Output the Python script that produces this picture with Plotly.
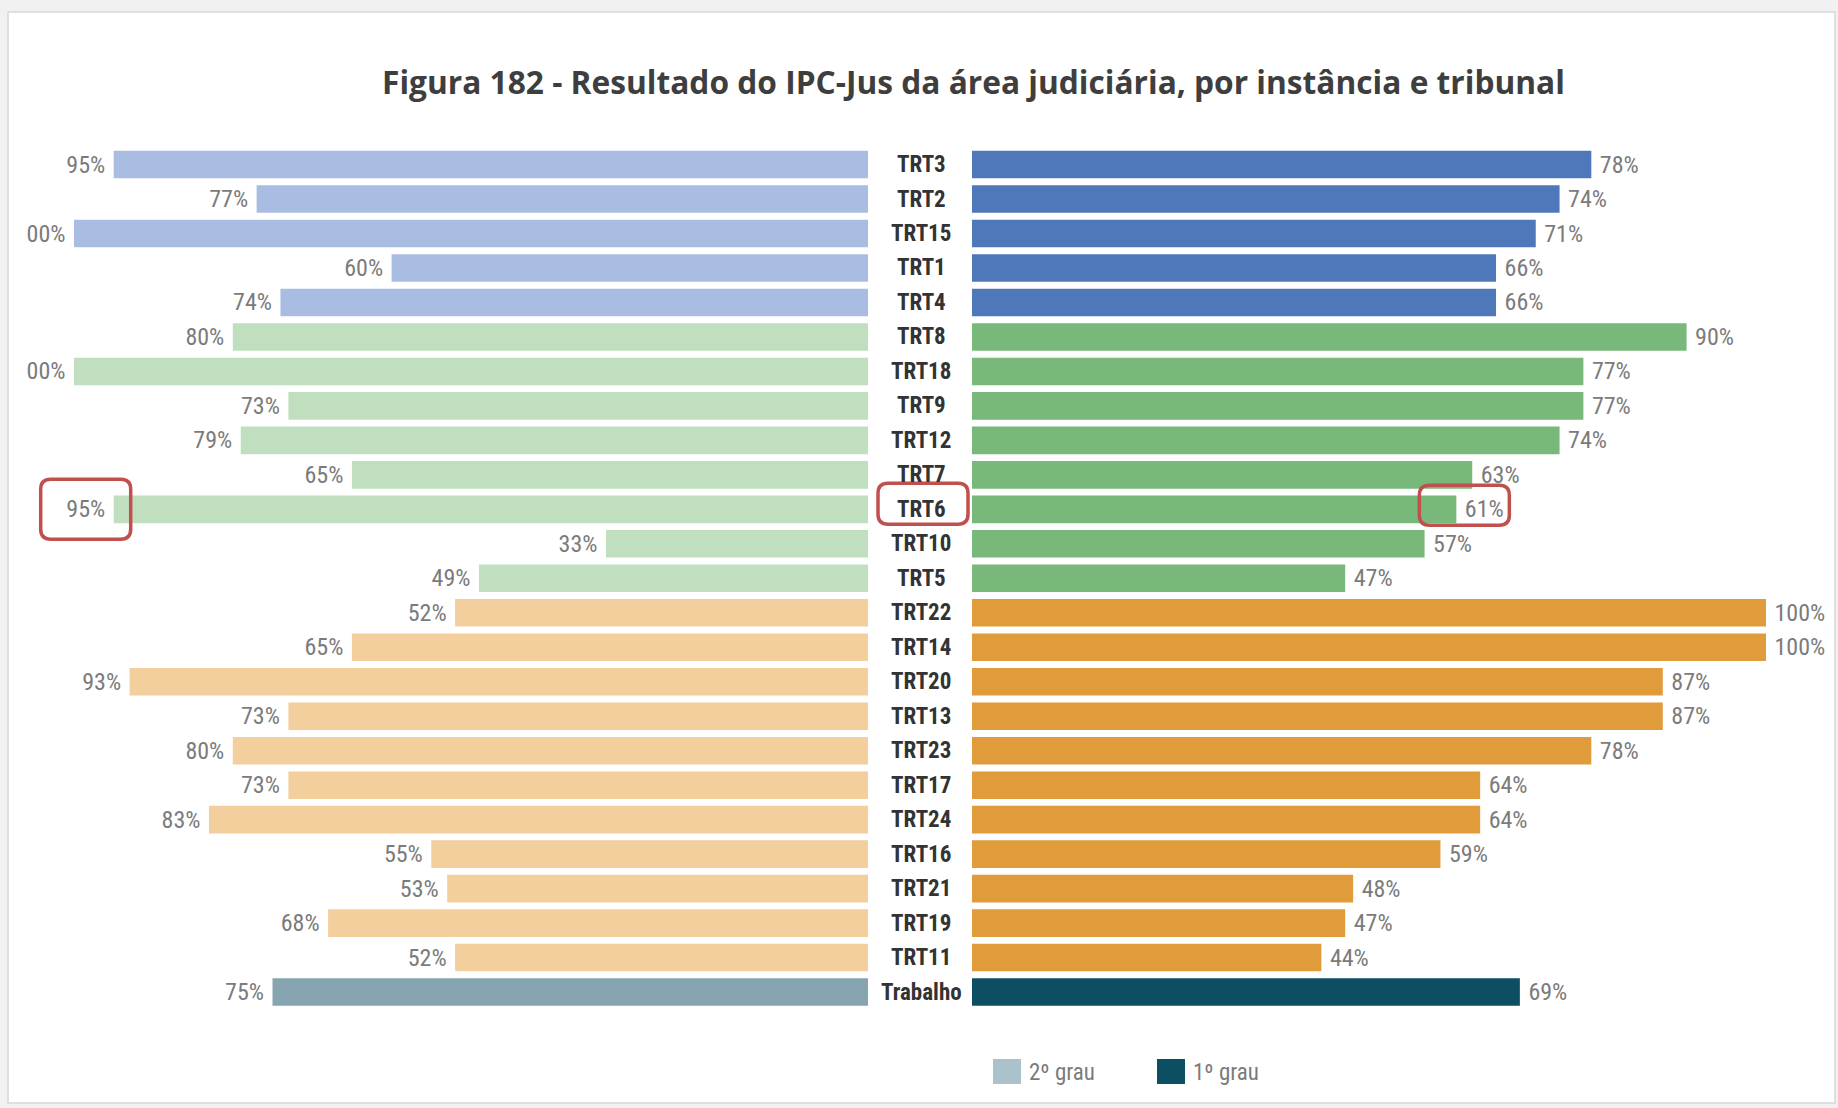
import plotly.graph_objects as go

W, H = 1838, 1108

tribunais = ["TRT3", "TRT2", "TRT15", "TRT1", "TRT4",
             "TRT8", "TRT18", "TRT9", "TRT12", "TRT7", "TRT6", "TRT10", "TRT5",
             "TRT22", "TRT14", "TRT20", "TRT13", "TRT23", "TRT17", "TRT24", "TRT16", "TRT21", "TRT19", "TRT11",
             "Trabalho"]
grupo = ["g1"] * 5 + ["g2"] * 8 + ["g3"] * 11 + ["total"]
segundo_grau = [95, 77, 100, 60, 74,
                80, 100, 73, 79, 65, 95, 33, 49,
                52, 65, 93, 73, 80, 73, 83, 55, 53, 68, 52,
                75]
primeiro_grau = [78, 74, 71, 66, 66,
                 90, 77, 77, 74, 63, 61, 57, 47,
                 100, 100, 87, 87, 78, 64, 64, 59, 48, 47, 44,
                 69]
destaque = "TRT6"
titulo = "Figura 182 - Resultado do IPC-Jus da área judiciária, por instância e tribunal"
legenda = ["2º grau", "1º grau"]

cor_2g = {"g1": "#a8bde1", "g2": "#bfdfbf", "g3": "#f2cf9d", "total": "#86a5b1"}
cor_1g = {"g1": "#4e78ba", "g2": "#78b87b", "g3": "#e09b3b", "total": "#0c4f63"}
cor_leg = ["#a9c2cb", "#0c4f63"]

NARROW = "Liberation Sans Narrow, Roboto Condensed, DejaVu Sans Condensed, sans-serif"
NBSP = "\u00a0"

# pixel layout
scale = 794.0 / 100.0      # px per percentage point
left_zero, right_zero = 868, 972
left_start = 27
row_top, row_pitch = 147.3, 34.48
n = len(tribunais)
row_bottom = row_top + n * row_pitch

def px(x):
    return x / W

def py(y):
    return 1 - y / H

fig = go.Figure()
fig.add_trace(go.Bar(
    y=tribunais, x=segundo_grau, orientation="h", xaxis="x", yaxis="y",
    marker=dict(color=[cor_2g[g] for g in grupo], line=dict(width=0)),
    text=[f"{v}%{NBSP}" for v in segundo_grau], textposition="outside",
    textfont=dict(family=NARROW, size=24, color="#7b7b7b"),
    constraintext="none", cliponaxis=True, showlegend=False, hoverinfo="skip"))
fig.add_trace(go.Bar(
    y=tribunais, x=primeiro_grau, orientation="h", xaxis="x2", yaxis="y",
    marker=dict(color=[cor_1g[g] for g in grupo], line=dict(width=0)),
    text=[f"{NBSP}{v}%" for v in primeiro_grau], textposition="outside",
    textfont=dict(family=NARROW, size=24, color="#7b7b7b"),
    constraintext="none", cliponaxis=True, showlegend=False, hoverinfo="skip"))

# category labels in the middle
annotations = []
for t in tribunais:
    annotations.append(dict(
        x=px(921), xref="paper", y=t, yref="y", text=f"<b>{t}</b>", showarrow=False,
        xanchor="center", yanchor="middle",
        font=dict(family=NARROW, size=23, color="#333333")))

# title
annotations.append(dict(
    x=px(973), y=py(82), xref="paper", yref="paper", text=f"<b>{titulo}</b>",
    showarrow=False, xanchor="center", yanchor="middle",
    font=dict(family="Open Sans, sans-serif", size=31.7, color="#3e3e3e")))

shapes = []
# page background
shapes.append(dict(type="rect", xref="paper", yref="paper", layer="below",
                   x0=px(8), x1=px(1835), y0=py(1103), y1=py(12),
                   fillcolor="white", line=dict(color="#d8d8d8", width=1.5)))

# legend (custom)
leg_x = [993, 1157]
for i, (lab, c) in enumerate(zip(legenda, cor_leg)):
    shapes.append(dict(type="rect", xref="paper", yref="paper",
                       x0=px(leg_x[i]), x1=px(leg_x[i] + 28), y0=py(1084), y1=py(1059),
                       fillcolor=c, line=dict(width=0)))
    annotations.append(dict(x=px(leg_x[i] + 34), y=py(1072), xref="paper", yref="paper",
                            text=lab, showarrow=False, xanchor="left", yanchor="middle",
                            font=dict(family=NARROW, size=23, color="#7b7b7b")))

# highlight boxes around TRT6
def rounded(x0, y0, x1, y1, r=10):
    a, b, c, d = px(x0), px(x1), py(y0), py(y1)
    rx, ry = r / W, r / H
    return (f"M {a+rx},{c} L {b-rx},{c} Q {b},{c} {b},{c-ry} "
            f"L {b},{d+ry} Q {b},{d} {b-rx},{d} L {a+rx},{d} "
            f"Q {a},{d} {a},{d+ry} L {a},{c-ry} Q {a},{c} {a+rx},{c} Z")

i6 = tribunais.index(destaque)
yc = row_top + (i6 + 0.5) * row_pitch
v2 = segundo_grau[i6]
v1 = primeiro_grau[i6]
xl = left_zero - v2 * scale
xr = right_zero + v1 * scale
boxes = [
    (xl - 73, yc - 30, xl + 17, yc + 30),
    (878, yc - 26, 968, yc + 15),
    (xr - 37, yc - 24, xr + 53, yc + 16),
]
for b in boxes:
    shapes.append(dict(type="path", xref="paper", yref="paper",
                       path=rounded(*b), line=dict(color="#c0504d", width=3.5)))

fig.update_layout(
    width=W, height=H,
    margin=dict(l=0, r=0, t=0, b=0),
    paper_bgcolor="#f1f1f1", plot_bgcolor="rgba(0,0,0,0)",
    bargap=0.2,
    xaxis=dict(domain=[px(left_start), px(left_zero)],
               range=[(left_zero - left_start) / scale, 0],
               visible=False, fixedrange=True),
    xaxis2=dict(domain=[px(right_zero), 1],
                range=[0, (W - right_zero) / scale],
                visible=False, fixedrange=True),
    yaxis=dict(domain=[py(row_bottom), py(row_top)], type="category",
               categoryorder="array", categoryarray=tribunais,
               range=[n - 0.5, -0.5], visible=False, fixedrange=True),
    annotations=annotations, shapes=shapes,
)

fig.write_html("out.html", config={"displayModeBar": False},
               post_script="document.body.style.margin='0';document.body.style.overflow='hidden';")
